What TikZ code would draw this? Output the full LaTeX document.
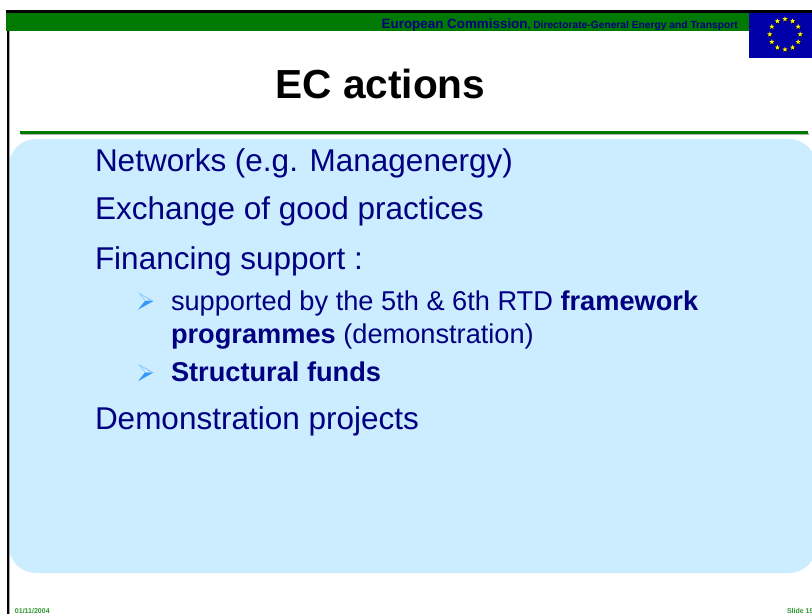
\documentclass[tikz,border=0pt]{standalone}
\usepackage{fontspec}
\usetikzlibrary{shapes.geometric}
\setmainfont{Liberation Sans}
\definecolor{navy}{HTML}{000080}
\definecolor{slidegreen}{HTML}{007A00}
\definecolor{panel}{HTML}{CCECFF}
\definecolor{flagblue}{HTML}{0000A8}
\definecolor{bulletblue}{HTML}{3399FF}
\definecolor{footgreen}{HTML}{2E962E}
\tikzset{
  txt/.style={inner sep=0pt,outer sep=0pt,anchor=base west,text=navy,font=\fontsize{31.5}{31.5}\selectfont},
  subtxt/.style={inner sep=0pt,outer sep=0pt,anchor=base west,text=navy,font=\fontsize{27.2}{27.2}\selectfont},
  foot/.style={inner sep=0pt,outer sep=0pt,text=footgreen,font=\fontsize{7}{7}\selectfont\bfseries},
  euflagstar/.style={star,star points=5,star point ratio=2.4,minimum size=5.5pt,inner sep=0pt,fill=yellow},
  euflagshadow/.style={star,star points=5,star point ratio=2.4,minimum size=5.5pt,inner sep=0pt,fill=black},
}
\newcommand{\bulletarrow}[2]{%
  \fill[bulletblue!55] (#1,#2-8.7) -- (#1+15.5,#2) -- (#1+7,#2) -- cycle;
  \fill[panel!70!white] (#1+3.5,#2-5.8) -- (#1+11.5,#2-.6) -- (#1+7.8,#2-.6) -- cycle;
  \fill[bulletblue] (#1,#2+8.7) -- (#1+15.5,#2) -- (#1+7,#2) -- cycle;
}
\begin{document}
\begin{tikzpicture}[x=1pt,y=-1pt]
\useasboundingbox (0,0) rectangle (812,614);
\fill[white] (0,0) rectangle (812,614);
% panel
\begin{scope}
\clip (0,0) rectangle (812,614);
\fill[panel,rounded corners=27pt] (9,139) rectangle (816,573);
\end{scope}
% slide frame
\fill[gray!70] (9,13) rectangle (10.2,614);
\fill[black] (6.6,10) rectangle (9.2,614);
\fill[black] (6,10) rectangle (812,13);
\fill[slidegreen] (6,13) rectangle (749,31);
% rule
\fill[gray!60] (21,132.5) rectangle (809,134.5);
\fill[slidegreen] (20,131) rectangle (808,133.5);
% flag
\fill[flagblue] (749,13) rectangle (812,58);
\foreach \a in {0,30,...,330} {
  \node[euflagshadow] at ({785.6+15.2*cos(\a+90)},{35-15.2*sin(\a+90)}) {};
  \node[euflagstar] at ({785+15.2*cos(\a+90)},{34.3-15.2*sin(\a+90)}) {};
}
% header text
\node (hdr) [inner sep=0,anchor=base east,text=navy,font=\bfseries\fontsize{10.25}{10.25}\selectfont] at (738,28.4)
  {{\fontsize{13.4}{13.4}\selectfont European Commission}, Directorate-General Energy and Transport};
% title
\node (title) [inner sep=0,anchor=base,text=black,font=\bfseries\fontsize{40.6}{40.6}\selectfont] at (380.5,98.5) {EC actions};
% body
\node (b1) [txt] at (95,171.5) {Networks (e.g. Managenergy)};
\node (b2) [txt] at (95,219.3) {Exchange of good practices};
\node (b3) [txt] at (95,269.3) {Financing support :};
\node (s1) [subtxt] at (171,310) {supported by the 5th \& 6th RTD \textbf{framework}};
\node (s1b) [subtxt] at (171,343) {\textbf{programmes} (demonstration)};
\node (s2) [subtxt] at (171,381) {\textbf{Structural funds}};
\node (b4) [txt] at (95,429.5) {Demonstration projects};
\bulletarrow{138}{301}
\bulletarrow{138}{372.5}
% footer
\node (date) [foot,anchor=base west] at (15,613) {01/11/2004};
\node (slide) [foot,anchor=base west] at (787,613) {Slide 19};
\end{tikzpicture}
\end{document}
